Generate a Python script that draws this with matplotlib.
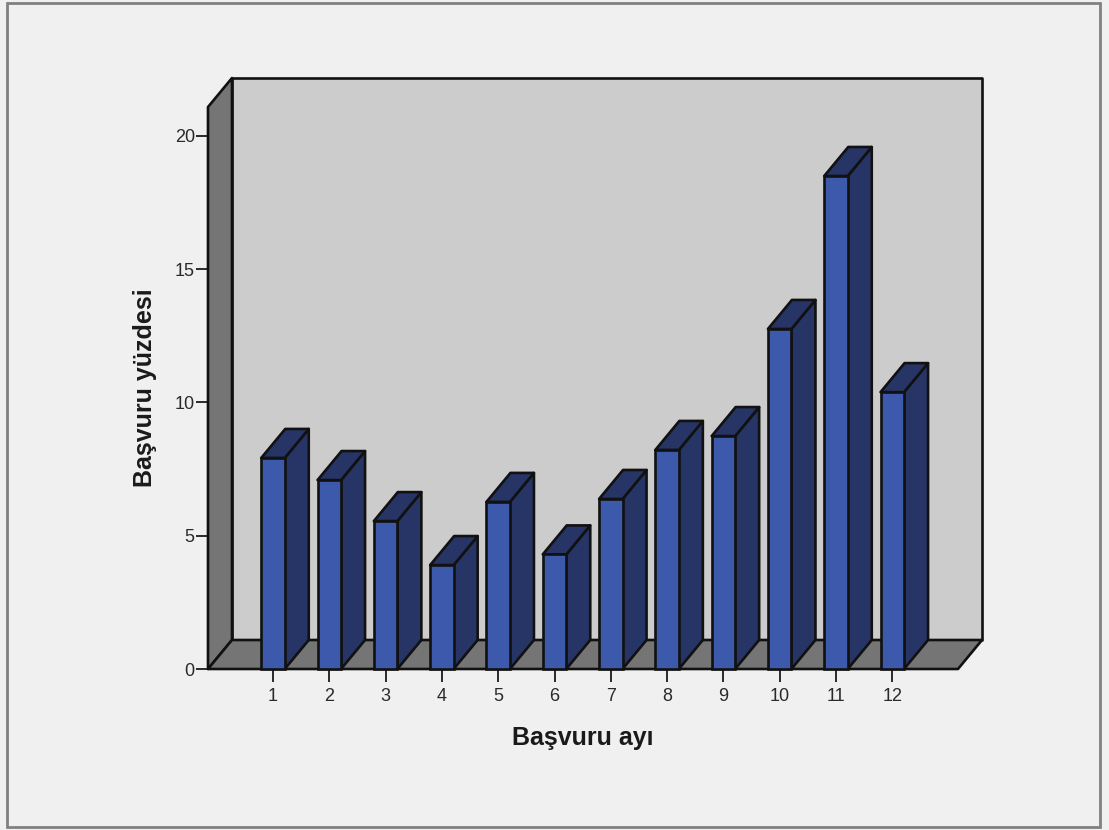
import matplotlib
matplotlib.use('Agg')
import matplotlib.pyplot as plt
from matplotlib.patches import Polygon, Rectangle

plt.rcParams['font.family'] = ['Liberation Sans', 'DejaVu Sans']

months = [1, 2, 3, 4, 5, 6, 7, 8, 9, 10, 11, 12]
percents = [7.92, 7.09, 5.55, 3.90, 6.27, 4.30, 6.38, 8.22, 8.74, 12.76, 18.50, 10.39]
y_ticks = [0, 5, 10, 15, 20]

W, H = 1109, 830
BG = '#f0f0f0'
WALL = '#cccccc'
GREY = '#757575'
FRONT = '#3d59ab'
DARK = '#263566'
LW = 1.9

# front plane of the fake 3d box, in pixels
left, right, bottom, top = 208, 958, 669, 107
PX_X = 56.3   # px per month
PX_Y = 26.65  # px per percent

fig = plt.figure(figsize=(W / 100, H / 100), dpi=100, facecolor=BG)
fig.add_artist(Rectangle((7 / W, 3 / H), 1093 / W, 824 / H, transform=fig.transFigure,
                         fill=False, ec='#808080', lw=2))

ax = fig.add_axes([left / W, 1 - bottom / H, (right - left) / W, (bottom - top) / H])
xmin = 1 - (273 - left) / PX_X
ax.set_xlim(xmin, xmin + (right - left) / PX_X)
ax.set_ylim(0, (bottom - top) / PX_Y)
ax.patch.set_visible(False)
for s in ax.spines.values():
    s.set_visible(False)

# depth of the box in data units
dx = 24 / PX_X
dy = 29 / PX_Y
x0, x1 = ax.get_xlim()
y0, y1 = ax.get_ylim()

def poly(points, color, z):
    ax.add_patch(Polygon(points, closed=True, fc=color, ec='#111111', lw=LW, joinstyle='round',
                         clip_on=False, zorder=z))

poly([(x0 + dx, y0 + dy), (x1 + dx, y0 + dy), (x1 + dx, y1 + dy), (x0 + dx, y1 + dy)], WALL, 1)
poly([(x0, y0), (x0 + dx, y0 + dy), (x0 + dx, y1 + dy), (x0, y1)], GREY, 2)
poly([(x0, y0), (x1, y0), (x1 + dx, y0 + dy), (x0 + dx, y0 + dy)], GREY, 2)

bar_w = 23.5 / PX_X
for i, (m, p) in enumerate(zip(months, percents)):
    l, r = m - bar_w / 2, m + bar_w / 2
    z = 3 + i
    poly([(r, 0), (r + dx, dy), (r + dx, p + dy), (r, p)], DARK, z)
    poly([(l, p), (r, p), (r + dx, p + dy), (l + dx, p + dy)], DARK, z)
    ax.bar(m, p, width=bar_w, color=FRONT, edgecolor='#111111', linewidth=LW, zorder=z + 0.5, clip_on=False)

ax.set_xticks(months)
ax.set_yticks(y_ticks)
ax.tick_params(axis='x', length=9, width=1.4, pad=5, labelsize=13, colors='#2a2a2a')
ax.tick_params(axis='y', length=9, width=1.4, pad=0.5, labelsize=13, colors='#2a2a2a')

fig.text(583 / W, 1 - 738 / H, 'Başvuru ayı', fontsize=18, fontweight='bold',
         ha='center', va='center', color='#1a1a1a')
fig.text(145 / W, 1 - 388 / H, 'Başvuru yüzdesi', fontsize=18, fontweight='bold',
         rotation=90, ha='center', va='center', color='#1a1a1a')

fig.savefig('out.png', dpi=100, facecolor=BG)
